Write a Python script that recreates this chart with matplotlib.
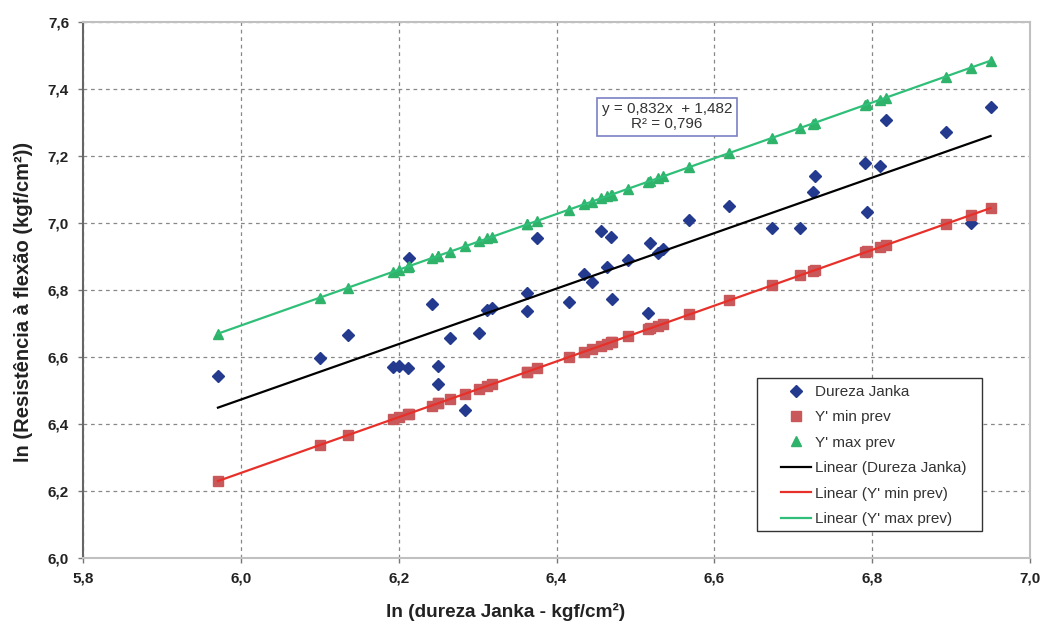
import numpy as np
import matplotlib
matplotlib.use("Agg")
import matplotlib.pyplot as plt
from matplotlib.patches import Rectangle

plt.rcParams['font.family'] = ['Liberation Sans', 'DejaVu Sans']

# ln(dureza Janka) - mesmo x para as tres series
ln_janka = [5.971, 6.100, 6.136, 6.193, 6.201, 6.212, 6.213, 6.242, 6.250, 6.250,
            6.265, 6.284, 6.302, 6.312, 6.318, 6.363, 6.363, 6.375, 6.416, 6.435,
            6.445, 6.457, 6.464, 6.469, 6.470, 6.491, 6.516, 6.519, 6.528, 6.535,
            6.568, 6.619, 6.673, 6.709, 6.725, 6.728, 6.791, 6.794, 6.810, 6.817,
            6.893, 6.925, 6.950]

# ln(resistencia a flexao) observado
ln_flexao = [6.544, 6.598, 6.666, 6.571, 6.574, 6.568, 6.895, 6.758, 6.574, 6.520,
             6.657, 6.443, 6.672, 6.741, 6.746, 6.738, 6.791, 6.955, 6.764, 6.848,
             6.824, 6.976, 6.868, 6.958, 6.773, 6.889, 6.732, 6.940, 6.910, 6.922,
             7.008, 7.050, 6.984, 6.984, 7.094, 7.139, 7.178, 7.032, 7.169, 7.306,
             7.273, 6.999, 7.347]

# Y' min prev
y_min_prev = [6.230, 6.337, 6.367, 6.415, 6.421, 6.430, 6.431, 6.455, 6.462, 6.462,
              6.474, 6.490, 6.505, 6.514, 6.519, 6.556, 6.556, 6.566, 6.600, 6.616,
              6.624, 6.634, 6.640, 6.644, 6.645, 6.662, 6.683, 6.686, 6.693, 6.699,
              6.727, 6.769, 6.814, 6.844, 6.857, 6.860, 6.912, 6.915, 6.928, 6.934,
              6.997, 7.024, 7.044]

# Y' max prev
y_max_prev = [6.670, 6.777, 6.807, 6.855, 6.861, 6.870, 6.871, 6.895, 6.902, 6.902,
              6.914, 6.930, 6.945, 6.954, 6.959, 6.996, 6.996, 7.006, 7.040, 7.056,
              7.064, 7.074, 7.080, 7.084, 7.085, 7.102, 7.123, 7.126, 7.133, 7.139,
              7.167, 7.209, 7.254, 7.284, 7.297, 7.300, 7.352, 7.355, 7.368, 7.374,
              7.437, 7.464, 7.484]

x_ticks = [5.8, 6.0, 6.2, 6.4, 6.6, 6.8, 7.0]
y_ticks = [6.0, 6.2, 6.4, 6.6, 6.8, 7.0, 7.2, 7.4, 7.6]

equacao = "y = 0,832x  + 1,482\nR\u00b2 = 0,796"

x = np.array(ln_janka)
fig = plt.figure(figsize=(10.42, 6.23), dpi=100)
ax = fig.add_axes([83/1042, 1 - 558/623, 947/1042, 536/623])

azul = '#233a8e'
vermelho_m = '#c9585a'
verde_m = '#2fb26a'

ax.plot(x, ln_flexao, 'D', color=azul, markersize=6.5, linestyle='none', label='Dureza Janka')
ax.plot(x, y_min_prev, 's', color=vermelho_m, markersize=7, linestyle='none', label="Y' min prev")
ax.plot(x, y_max_prev, '^', color=verde_m, markersize=7.5, linestyle='none', label="Y' max prev")

# linhas de tendencia (regressao linear)
xx = np.array([x.min(), x.max()])
for serie, cor, nome in [(ln_flexao, 'black', 'Linear (Dureza Janka)'),
                         (y_min_prev, '#e8302a', "Linear (Y' min prev)"),
                         (y_max_prev, '#2fbf78', "Linear (Y' max prev)")]:
    a, b = np.polyfit(x, serie, 1)
    ax.plot(xx, a * xx + b, color=cor, linewidth=1.6, label=nome)

ax.set_xlim(5.8, 7.0)
ax.set_ylim(6.0, 7.6)
ax.set_xticks(x_ticks)
ax.set_yticks(y_ticks)
ax.set_xticklabels([f"{t:.1f}".replace('.', ',') for t in x_ticks], fontweight='bold', fontsize=11)
ax.set_yticklabels([f"{t:.1f}".replace('.', ',') for t in y_ticks], fontweight='bold', fontsize=11)
ax.tick_params(axis='both', colors='#777777', labelcolor='#222222', length=3.5, width=1, pad=6.5)

ax.grid(True, linestyle=(0, (3, 3)), color='#888888', linewidth=0.9)
ax.set_axisbelow(True)
for lado in ['top', 'right', 'bottom']:
    ax.spines[lado].set_color('#c0c0c0')
    ax.spines[lado].set_linewidth(1.5)
ax.spines['left'].set_color('#666666')
ax.spines['left'].set_linewidth(1.5)

ax.set_xlabel("ln (dureza Janka - kgf/cm\u00b2)", fontweight='bold', fontsize=13.7, color='#222222')
ax.set_ylabel("ln (Resist\u00eancia \u00e0 flex\u00e3o (kgf/cm\u00b2))", fontweight='bold', fontsize=14.5, color='#222222')
ax.xaxis.set_label_coords(0.446, -0.084)
ax.yaxis.set_label_coords(-0.053, 0.478)

ax.text(6.540, 7.317, equacao, ha='center', va='center', fontsize=11, color='#333333',
        linespacing=1.1,
        bbox=dict(boxstyle='square,pad=0.3', facecolor='white', edgecolor='#7b80c4', linewidth=1.2))

# moldura da legenda desenhada a parte
moldura = Rectangle((0.7117, 0.0504), 0.2376, 0.2854, transform=ax.transAxes,
                    facecolor='white', edgecolor='#333333', linewidth=1.0, zorder=4)
ax.add_patch(moldura)

leg = ax.legend(loc='upper left', bbox_to_anchor=(0.737, 0.323), fontsize=11,
                frameon=False, borderpad=0, borderaxespad=0,
                handlelength=2.0, handletextpad=0.2, labelspacing=0.75)
leg.set_zorder(5)
for t in leg.get_texts():
    t.set_color('#333333')

fig.savefig('out.png', dpi=100)
